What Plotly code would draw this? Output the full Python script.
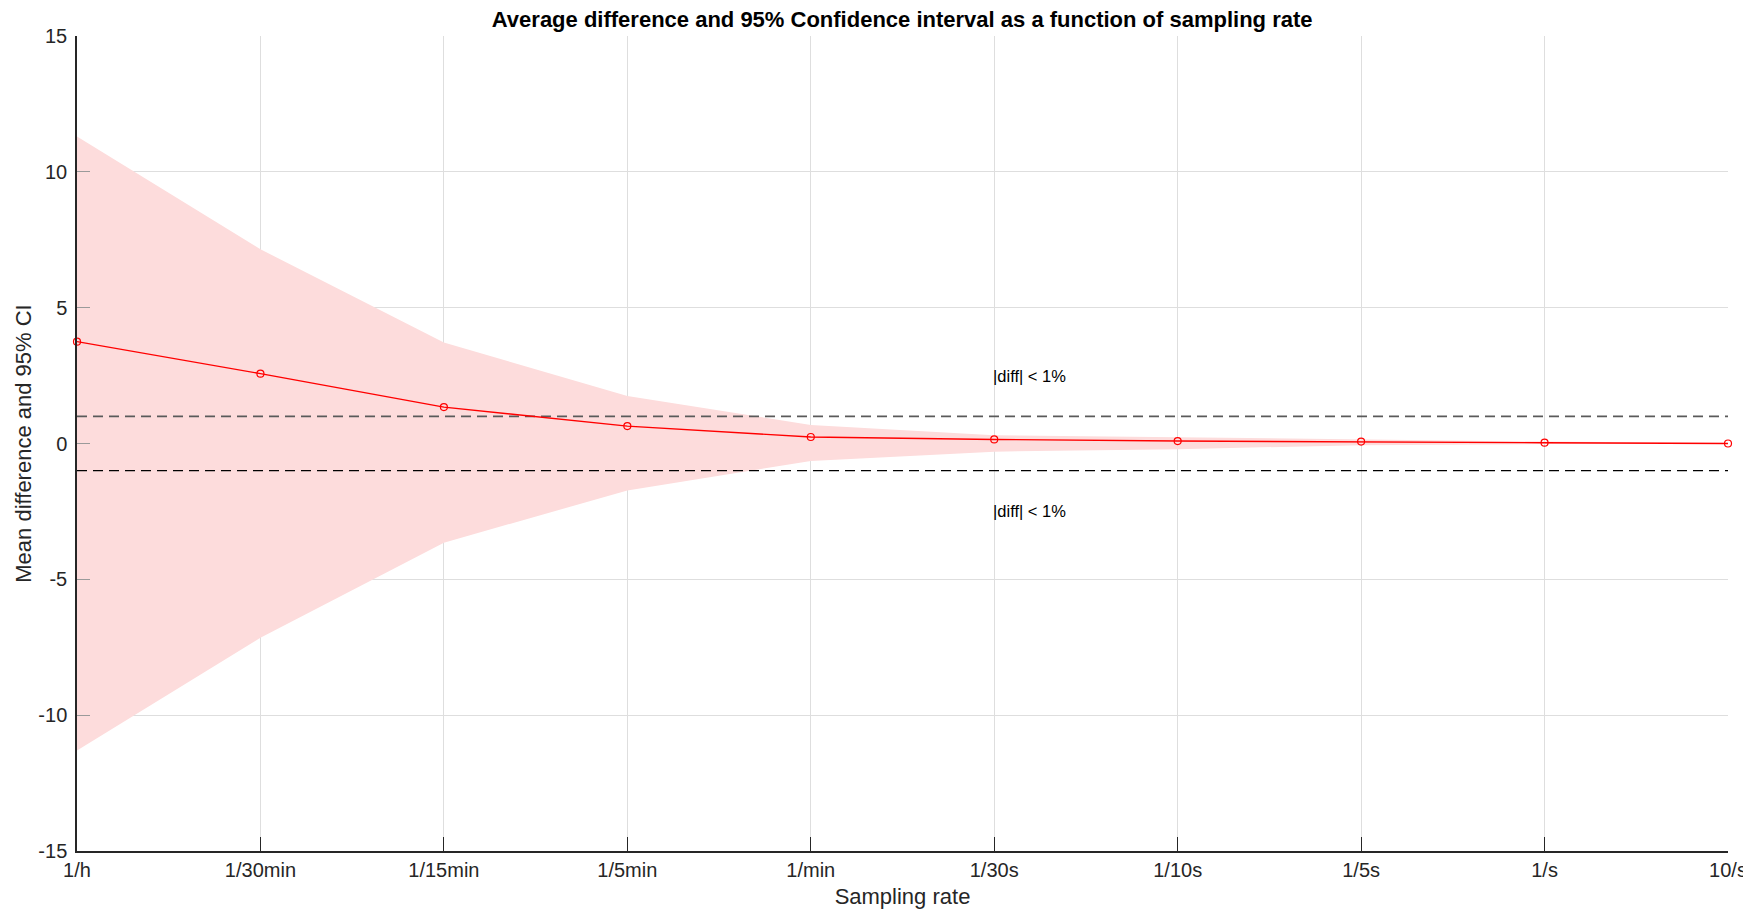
import plotly.graph_objects as go

rates = ["1/h", "1/30min", "1/15min", "1/5min", "1/min", "1/30s", "1/10s", "1/5s", "1/s", "10/s"]
mean_diff = [3.75, 2.57, 1.34, 0.64, 0.24, 0.15, 0.09, 0.07, 0.03, 0.0]
ci_upper = [11.3, 7.15, 3.72, 1.75, 0.68, 0.30, 0.23, 0.14, 0.07, 0.02]
ci_lower = [-11.3, -7.15, -3.65, -1.73, -0.64, -0.30, -0.21, -0.06, -0.02, -0.02]
threshold = [1.0, -1.0]
y_ticks = [-15, -10, -5, 0, 5, 10, 15]
y_tick_labels = ["-15", "-10", "-5", "0", "5", "10", "15"]

FONT = "Liberation Sans, Arial, Helvetica, sans-serif"
H = 901

fig = go.Figure()
fig.add_trace(go.Scatter(x=rates, y=ci_lower, mode="lines", line=dict(width=0),
                         hoverinfo="skip", showlegend=False))
fig.add_trace(go.Scatter(x=rates, y=ci_upper, mode="lines", line=dict(width=0),
                         fill="tonexty", fillcolor="rgba(253,220,220,1)",
                         hoverinfo="skip", showlegend=False))
fig.add_trace(go.Scatter(x=rates, y=[threshold[0]] * len(rates), mode="lines",
                         line=dict(color="#5a5a5a", width=1.6, dash="10px,6px"), showlegend=False))
fig.add_trace(go.Scatter(x=rates, y=[threshold[1]] * len(rates), mode="lines",
                         line=dict(color="#000000", width=1.4, dash="10px,6px"), showlegend=False))
fig.add_trace(go.Scatter(x=rates, y=mean_diff, mode="lines+markers",
                         line=dict(color="#ff0000", width=1.4),
                         marker=dict(symbol="circle-open", size=7, color="#ff0000",
                                     line=dict(width=1.2)),
                         cliponaxis=False, showlegend=False))

for yv in (2.5, -2.5):
    fig.add_annotation(x="1/30s", y=yv, text="|diff| < 1%", showarrow=False,
                       xanchor="left", yanchor="middle", xshift=-3,
                       font=dict(family=FONT, size=16.5, color="#000000"))

fig.update_layout(
    width=1743, height=H,
    margin=dict(l=69, r=23, t=28, b=58),
    paper_bgcolor="white", plot_bgcolor="white",
    title=dict(text="<b>Average difference and 95% Confidence interval as a function of sampling rate</b>",
               x=0.513, xanchor="center", y=1 - 11.5 / H, yanchor="middle",
               font=dict(family=FONT, size=22, color="#000000")),
    font=dict(family=FONT, color="#262626"),
)
fig.update_xaxes(
    type="category", range=[0, len(rates) - 1], automargin=False,
    showgrid=True, gridcolor="#dedede", gridwidth=1,
    showline=True, linecolor="#262626", linewidth=1.5, mirror=False,
    ticks="inside", ticklen=14, tickcolor="#262626", tickwidth=1.3,
    tickfont=dict(family=FONT, size=20, color="#262626"),
    title=dict(text="Sampling rate", font=dict(family=FONT, size=22, color="#262626"), standoff=14),
    zeroline=False,
)
fig.update_yaxes(
    range=[-15, 15], tickvals=y_ticks, ticktext=y_tick_labels, automargin=False,
    showgrid=True, gridcolor="#dedede", gridwidth=1,
    showline=True, linecolor="#262626", linewidth=1.5,
    ticks="inside", ticklen=13, tickcolor="#9a9a9a", tickwidth=1.3,
    ticklabelstandoff=4,
    tickfont=dict(family=FONT, size=20, color="#262626"),
    title=dict(text="Mean difference and 95% CI", font=dict(family=FONT, size=22, color="#262626"), standoff=1),
    zeroline=False,
)
fig.write_html("out.html")
